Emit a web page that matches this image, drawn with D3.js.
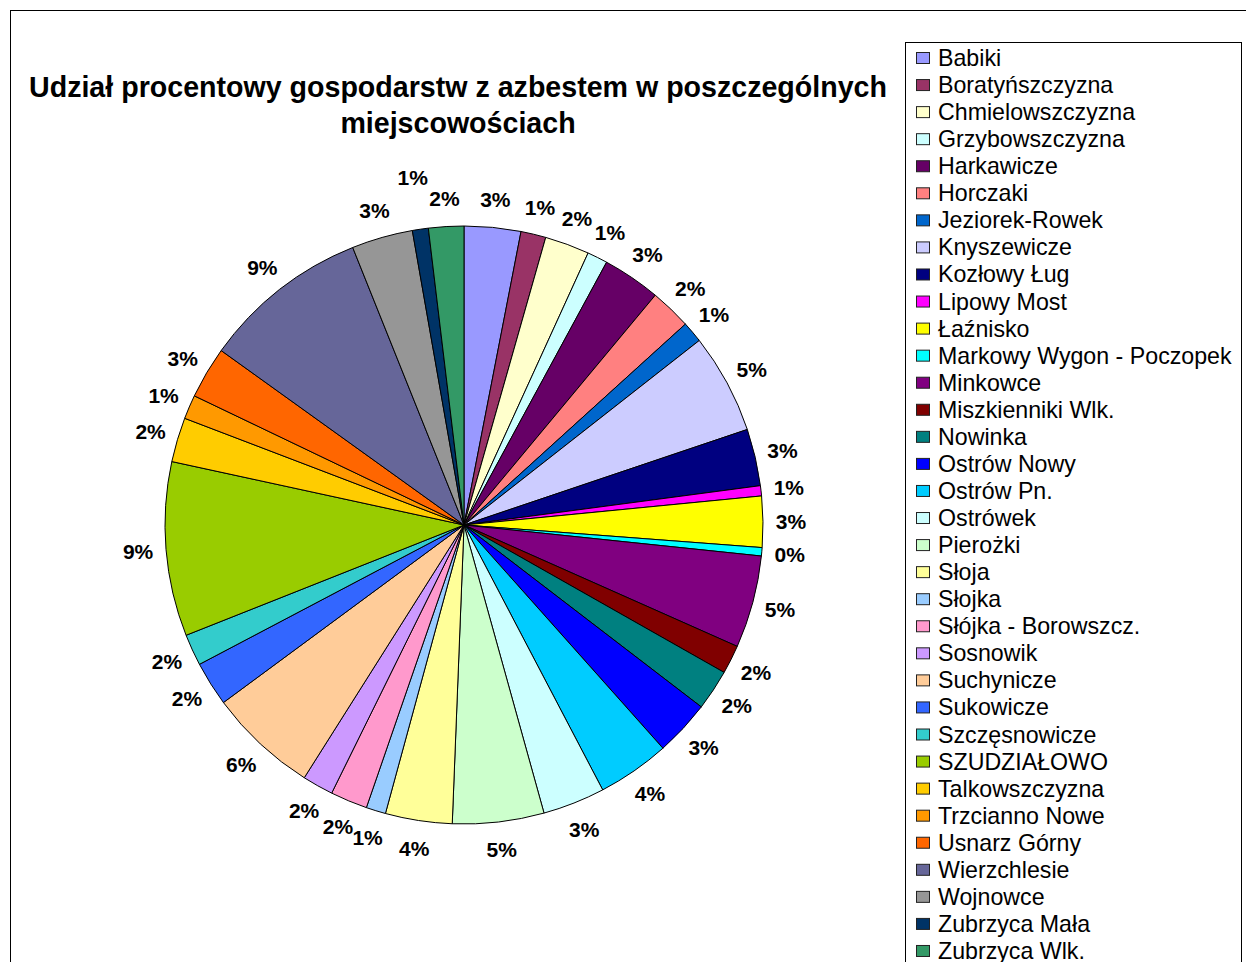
<!DOCTYPE html>
<html>
<head>
<meta charset="utf-8">
<script src="https://cdn.jsdelivr.net/npm/d3@7"></script>
<style>
  body { margin: 0; background: #fff; }
  svg { display: block; font-family: "Liberation Sans", Arial, sans-serif; }
</style>
</head>
<body>
<svg id="chart" width="1246" height="962"></svg>
<script>
// localities (legend order == slice order, clockwise from 12 o'clock)
var places = ["Babiki", "Boratyńszczyzna", "Chmielowszczyzna", "Grzybowszczyzna", "Harkawicze",
	"Horczaki", "Jeziorek-Rowek", "Knyszewicze", "Kozłowy Ług", "Lipowy Most", "Łaźnisko",
	"Markowy Wygon - Poczopek", "Minkowce", "Miszkienniki Wlk.", "Nowinka", "Ostrów Nowy",
	"Ostrów Pn.", "Ostrówek", "Pierożki", "Słoja", "Słojka", "Słójka - Borowszcz.", "Sosnowik",
	"Suchynicze", "Sukowicze", "Szczęsnowicze", "SZUDZIAŁOWO", "Talkowszczyzna", "Trzcianno Nowe",
	"Usnarz Górny", "Wierzchlesie", "Wojnowce", "Zubrzyca Mała", "Zubrzyca Wlk."];

// share of households with asbestos (%)
var shares = [3.05, 1.35, 2.4, 1.1, 3.13,
	2.22, 1.14, 5.4, 3.07, 0.55, 2.75,
	0.45, 4.99, 1.55, 2.2, 3.0,
	3.9, 3.36, 4.93, 3.6, 1.06, 2.0, 1.67,
	5.9, 2.4, 1.7, 9.4, 2.4, 1.3,
	2.8, 9.0, 3.3, 0.86, 1.9];

var colors = ["#9999FF", "#993366", "#FFFFCC", "#CCFFFF", "#660066",
	"#FF8080", "#0066CC", "#CCCCFF", "#000080", "#FF00FF", "#FFFF00",
	"#00FFFF", "#800080", "#800000", "#008080", "#0000FF",
	"#00CCFF", "#CCFFFF", "#CCFFCC", "#FFFF99", "#99CCFF", "#FF99CC", "#CC99FF",
	"#FFCC99", "#3366FF", "#33CCCC", "#99CC00", "#FFCC00", "#FF9900",
	"#FF6600", "#666699", "#969696", "#003366", "#339966"];

var titleLines = ["Udział procentowy gospodarstw z azbestem w poszczególnych", "miejscowościach"];

var data = places.map(function(p, i) {
	return {name: p, value: shares[i], color: colors[i]};
});

var svg = d3.select("#chart");

// outer chart frame (runs off the right / bottom edge like the original)
svg.append("rect")
	.attr("x", 10.5).attr("y", 10.5)
	.attr("width", 1300).attr("height", 1000)
	.attr("fill", "#fff").attr("stroke", "#000").attr("stroke-width", 1);

// title
svg.append("g").selectAll("text")
	.data(titleLines)
	.enter().append("text")
	.attr("x", 458)
	.attr("y", function(d, i) { return 97 + i * 36; })
	.attr("text-anchor", "middle")
	.style("font-size", "28.6px")
	.style("font-weight", "bold")
	.text(function(d) { return d; });

// pie
var cx = 464, cy = 525, radius = 299, labelR = 327;
var total = d3.sum(data, function(d) { return d.value; });
var fmt = d3.format(".0%");

var pie = d3.pie()
	.sort(null)
	.value(function(d) { return d.value; });

var arc = d3.arc().innerRadius(0).outerRadius(radius);

var pieG = svg.append("g")
	.attr("transform", "translate(" + cx + "," + cy + ")");

var arcs = pie(data);

pieG.selectAll(".slice")
	.data(arcs)
	.enter().append("path")
	.attr("class", "slice")
	.attr("d", arc)
	.attr("fill", function(d) { return d.data.color; })
	.attr("stroke", "#000")
	.attr("stroke-width", 1);

function labelPos(d, r) {
	var a = (d.startAngle + d.endAngle) / 2;
	return [Math.sin(a) * r, -Math.cos(a) * r];
}

var labels = pieG.selectAll(".pct")
	.data(arcs)
	.enter().append("text")
	.attr("class", "pct")
	.attr("text-anchor", "middle")
	.attr("dy", "0.36em")
	.style("font-size", "21px")
	.style("font-weight", "bold")
	.text(function(d) { return fmt(d.data.value / total); })
	.each(function(d) {
		d.r = labelR;
		d.w = this.getBBox().width;
		d.h = 16;
	});

// push a label outwards when it sits on top of a neighbour
function overlapArea(a, b) {
	var pa = labelPos(a, a.r), pb = labelPos(b, b.r);
	var ox = Math.min(pa[0] + a.w / 2, pb[0] + b.w / 2) - Math.max(pa[0] - a.w / 2, pb[0] - b.w / 2);
	var oy = Math.min(pa[1] + a.h / 2, pb[1] + b.h / 2) - Math.max(pa[1] - a.h / 2, pb[1] - b.h / 2);
	return (ox > 0 && oy > 0) ? ox * oy : 0;
}
var placed = [];
for (var i = arcs.length - 1; i >= 0; i--) {
	var d = arcs[i];
	var guard = 0;
	if (placed.some(function(p) { return overlapArea(d, p) > 20; })) {
		while (placed.some(function(p) { return overlapArea(d, p) > 0; }) && guard < 40) {
			d.r += 2;
			guard++;
		}
		d.r += 6;
	}
	placed.push(d);
}

labels.attr("transform", function(d) {
	var c = labelPos(d, d.r);
	return "translate(" + c[0] + "," + c[1] + ")";
});

// legend
var legX = 905.5, legY = 42.5, rowH = 27.06;

svg.append("rect")
	.attr("x", legX).attr("y", legY)
	.attr("width", 336).attr("height", 1000)
	.attr("fill", "#fff").attr("stroke", "#000").attr("stroke-width", 1);

var leg = svg.append("g").selectAll(".legend")
	.data(data)
	.enter().append("g")
	.attr("class", "legend")
	.attr("transform", function(d, i) {
		return "translate(0," + (58 + i * rowH) + ")";
	});

leg.append("rect")
	.attr("x", 916.5)
	.attr("y", -5.5)
	.attr("width", 13)
	.attr("height", 11)
	.attr("fill", function(d) { return d.color; })
	.attr("stroke", "#222")
	.attr("stroke-width", 1);

leg.append("text")
	.attr("x", 938)
	.attr("y", 8)
	.style("font-size", "23.2px")
	.text(function(d) { return d.name; });
</script>
</body>
</html>
